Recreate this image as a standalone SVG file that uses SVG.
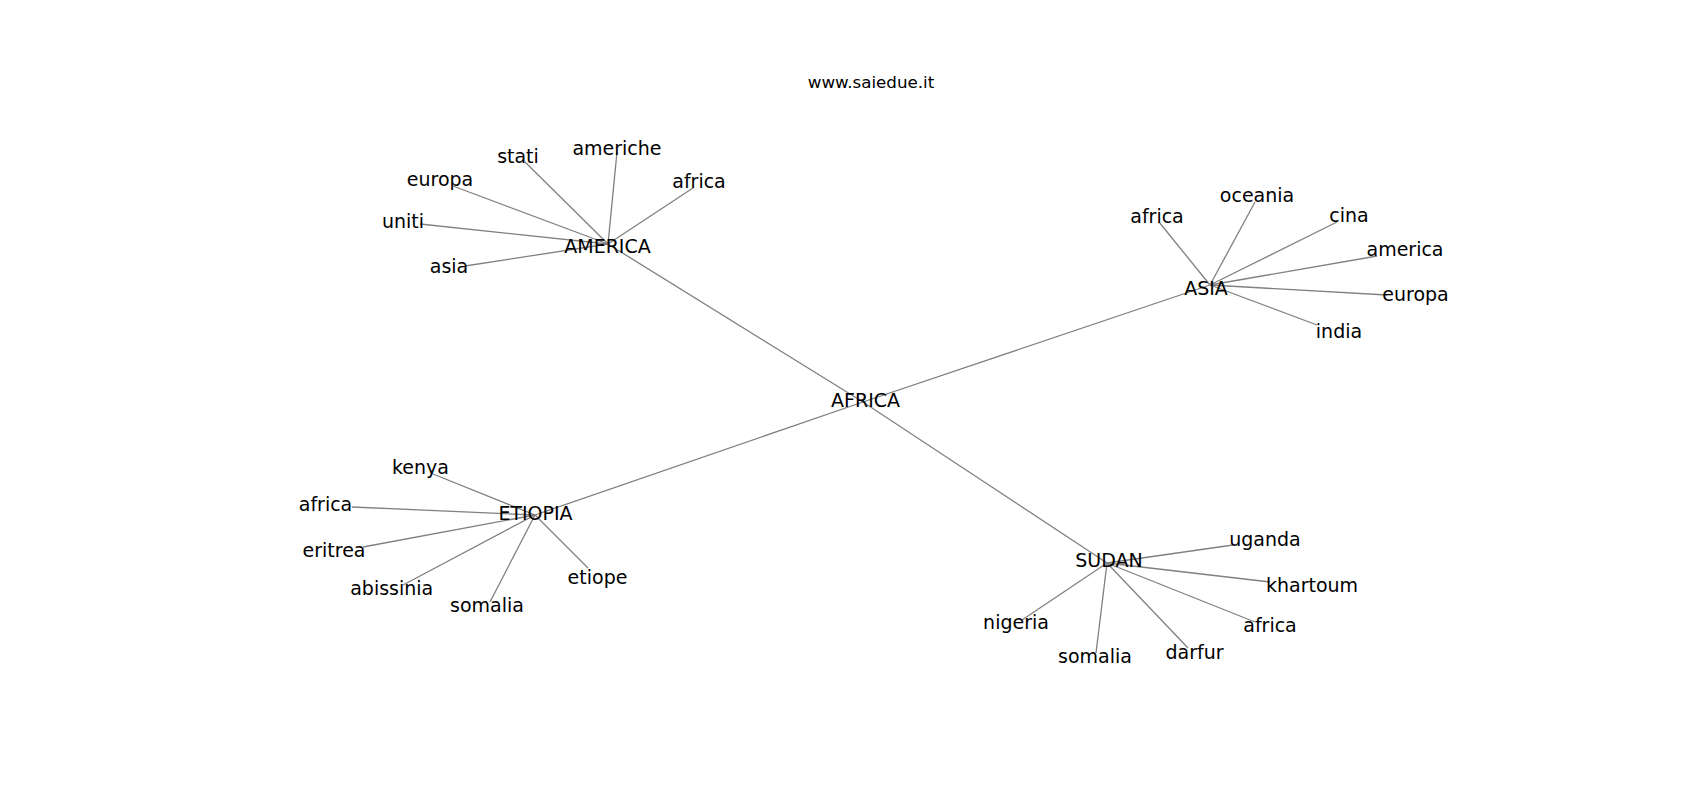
<svg xmlns="http://www.w3.org/2000/svg" width="1700" height="800" viewBox="0 0 1700 800">
<style>
.e{stroke:#808080;stroke-width:1.3;fill:none}
text{font-family:"DejaVu Sans",sans-serif;font-size:19px;fill:#000;text-anchor:middle}
.t{font-size:16.7px}
</style>
<rect width="1700" height="800" fill="#fff"/>
<text class="t" x="871" y="88">www.saiedue.it</text>
<g id="edges">
<line class="e" x1="608" y1="244" x2="863" y2="402"/>
<line class="e" x1="1210" y1="285" x2="863" y2="402"/>
<line class="e" x1="535" y1="515" x2="863" y2="402"/>
<line class="e" x1="1107" y1="563" x2="863" y2="402"/>
<line class="e" x1="608" y1="244" x2="525" y2="162"/>
<line class="e" x1="608" y1="244" x2="617" y2="152"/>
<line class="e" x1="608" y1="244" x2="453" y2="186"/>
<line class="e" x1="608" y1="244" x2="420" y2="224"/>
<line class="e" x1="608" y1="244" x2="465" y2="266"/>
<line class="e" x1="608" y1="244" x2="693" y2="188"/>
<line class="e" x1="1210" y1="285" x2="1159" y2="222"/>
<line class="e" x1="1210" y1="285" x2="1255" y2="202"/>
<line class="e" x1="1210" y1="285" x2="1337" y2="222"/>
<line class="e" x1="1210" y1="285" x2="1377" y2="256"/>
<line class="e" x1="1210" y1="285" x2="1387" y2="295"/>
<line class="e" x1="1210" y1="285" x2="1317" y2="325"/>
<line class="e" x1="535" y1="515" x2="433" y2="474"/>
<line class="e" x1="535" y1="515" x2="352" y2="507"/>
<line class="e" x1="535" y1="515" x2="363" y2="547"/>
<line class="e" x1="535" y1="515" x2="403" y2="585"/>
<line class="e" x1="535" y1="515" x2="490" y2="602"/>
<line class="e" x1="535" y1="515" x2="588" y2="568"/>
<line class="e" x1="1107" y1="563" x2="1233" y2="545"/>
<line class="e" x1="1107" y1="563" x2="1270" y2="582"/>
<line class="e" x1="1107" y1="563" x2="1255" y2="622"/>
<line class="e" x1="1107" y1="563" x2="1188" y2="648"/>
<line class="e" x1="1107" y1="563" x2="1096" y2="653"/>
<line class="e" x1="1107" y1="563" x2="1022" y2="620"/>
</g>
<g id="AFRICA"><text x="865.5" y="407">AFRICA</text></g>
<g id="AMERICA"><text x="607.5" y="253">AMERICA</text></g>
<g id="am-stati"><text x="518" y="163">stati</text></g>
<g id="am-americhe"><text x="617" y="155">americhe</text></g>
<g id="am-europa"><text x="440" y="186">europa</text></g>
<g id="am-uniti"><text x="403" y="228">uniti</text></g>
<g id="am-asia"><text x="449" y="273">asia</text></g>
<g id="am-africa"><text x="699" y="188">africa</text></g>
<g id="ASIA"><text x="1206" y="295">ASIA</text></g>
<g id="as-africa"><text x="1157" y="223">africa</text></g>
<g id="as-oceania"><text x="1257" y="202">oceania</text></g>
<g id="as-cina"><text x="1349" y="222">cina</text></g>
<g id="as-america"><text x="1405" y="256">america</text></g>
<g id="as-europa"><text x="1415.5" y="301">europa</text></g>
<g id="as-india"><text x="1339" y="338">india</text></g>
<g id="ETIOPIA"><text x="535.5" y="520">ETIOPIA</text></g>
<g id="et-kenya"><text x="420.5" y="474">kenya</text></g>
<g id="et-africa"><text x="325.5" y="511">africa</text></g>
<g id="et-eritrea"><text x="334" y="557">eritrea</text></g>
<g id="et-abissinia"><text x="391.7" y="595">abissinia</text></g>
<g id="et-somalia"><text x="487" y="612">somalia</text></g>
<g id="et-etiope"><text x="597.5" y="584">etiope</text></g>
<g id="SUDAN"><text x="1109" y="567">SUDAN</text></g>
<g id="su-uganda"><text x="1265" y="546">uganda</text></g>
<g id="su-khartoum"><text x="1312" y="592">khartoum</text></g>
<g id="su-africa"><text x="1270" y="632">africa</text></g>
<g id="su-darfur"><text x="1194.5" y="659">darfur</text></g>
<g id="su-somalia"><text x="1095" y="663">somalia</text></g>
<g id="su-nigeria"><text x="1016" y="629">nigeria</text></g>
</svg>
